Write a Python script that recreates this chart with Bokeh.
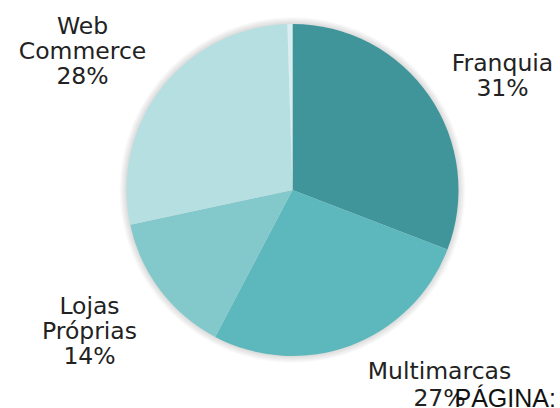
import math
from bokeh.plotting import figure
from bokeh.models import Range1d, ColumnDataSource
from bokeh.core.properties import value
from bokeh.embed import file_html
from bokeh.resources import INLINE

# ---- data ----
categories = ["Franquia", "Multimarcas", "Lojas Próprias", "Web Commerce", "Outros"]
shares = [31, 27, 14, 28, 0.5]
label_lines = [["Franquia", "31%"], ["Multimarcas", "27%"], ["Lojas", "Próprias", "14%"],
               ["Web", "Commerce", "28%"], []]
colors = ["#3f9599", "#5cb8bc", "#83c9cc", "#b5dfe1", "#d8eef0"]
footer_text = "PÁGINA: 1"

# ---- layout (pixel units, origin top-left of picture) ----
W, H = 560, 408
cx, cy, R = 292, 189.5, 166
label_anchor = {0: (502, 62, 25), 1: (439, 370, 27), 2: (89, 305, 25), 3: (82, 25, 25)}

p = figure(width=W, height=H, output_backend="svg", toolbar_location=None,
           x_range=Range1d(0, W), y_range=Range1d(0, H), min_border=0,
           outline_line_color=None)
p.axis.visible = False
p.grid.visible = False
p.background_fill_color = "white"

# soft shadow
for i in range(7):
    p.circle(x=[cx], y=[H - cy], radius=R + 7 - i, fill_color="#000000",
             fill_alpha=0.018, line_color=None)

total = sum(shares)
starts, ends = [], []
acc = 0.0
for s in shares:
    starts.append(math.pi / 2 - acc / total * 2 * math.pi)
    acc += s
    ends.append(math.pi / 2 - acc / total * 2 * math.pi)

src = ColumnDataSource(dict(start=starts, end=ends, color=colors, cat=categories))
p.wedge(x=cx, y=H - cy, radius=R, start_angle="start", end_angle="end",
        direction="clock", fill_color="color", line_color=None, source=src)

tx, ty, tt = [], [], []
for i, lines in enumerate(label_lines):
    if not lines:
        continue
    ax, ay, gap = label_anchor[i]
    for j, ln in enumerate(lines):
        tx.append(ax)
        ty.append(H - (ay + j * gap))
        tt.append(ln)
p.text(x=tx, y=ty, text=tt, text_font=value("DejaVu Sans"), text_font_size="23.5px",
       text_align="center", text_baseline="alphabetic", text_color="#222222")

p.text(x=[454], y=[H - 397], text=[footer_text], text_font=value("Liberation Sans"),
       text_font_size="25px", text_align="left", text_baseline="alphabetic",
       text_color="#111111")

open("out.html", "w").write(file_html(p, INLINE))
